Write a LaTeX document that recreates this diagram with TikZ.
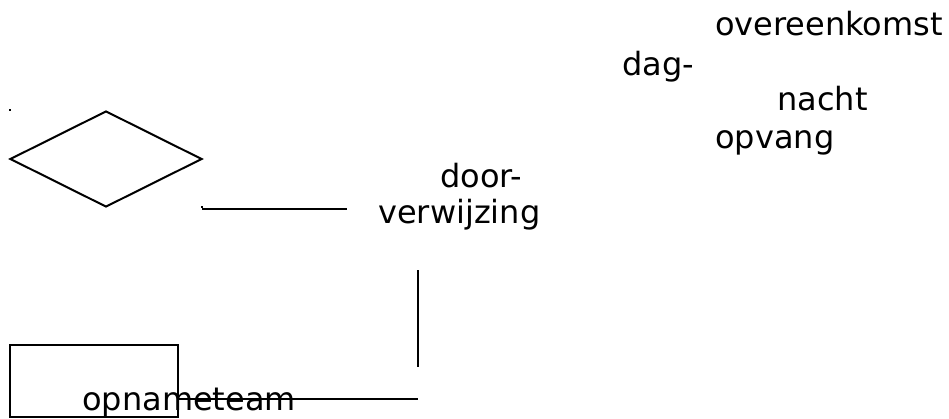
\documentclass[tikz,border=0pt]{standalone}
\usepackage{fontspec}
\setmainfont{DejaVu Sans}
\usetikzlibrary{shapes.geometric}
\begin{document}
\begin{tikzpicture}[x=0.75pt,y=-0.75pt,
  lbl/.style={anchor=base west,inner sep=0pt,font=\fontsize{24}{28.8}\selectfont},
  edge/.style={draw=black,line width=1.5pt},
  dotmark/.style={fill=black,minimum size=2.2pt,inner sep=0pt,draw=none}]
\useasboundingbox (0,0) rectangle (949,418);
% texts
\node[lbl] (overeen) at (715,35) {overeenkomst};
\node[lbl] (dag) at (622,75) {dag-};
\node[lbl] (nacht) at (777,110) {nacht};
\node[lbl] (opvang) at (715,148) {opvang};
\node[lbl] (door) at (440,187) {door-};
\node[lbl] (verw) at (378,223) {verwijzing};
% shapes
\node[diamond,draw,line width=1.5pt,inner sep=0pt,minimum width=144pt,minimum height=72pt,aspect=2] (dia) at (106,159) {};
\node[draw,line width=1.5pt,inner sep=0pt,minimum width=126pt,minimum height=54pt] (box) at (94,381) {};
\node[lbl] (opname) at (82,410) {opnameteam};
% dots
\node[dotmark] (d1) at (10,110) {};
\node[dotmark] (d2) at (202,207) {};
% connector ends
\coordinate (h1a) at (202,209);
\coordinate (h1b) at (347,209);
\coordinate (v1a) at (418,270);
\coordinate (v1b) at (418,367);
\coordinate (h2a) at (178,399);
\coordinate (h2b) at (418,399);
\draw[edge] (h1a) -- (h1b);
\draw[edge] (v1a) -- (v1b);
\draw[edge] (h2a) -- (h2b);
\end{tikzpicture}
\end{document}
